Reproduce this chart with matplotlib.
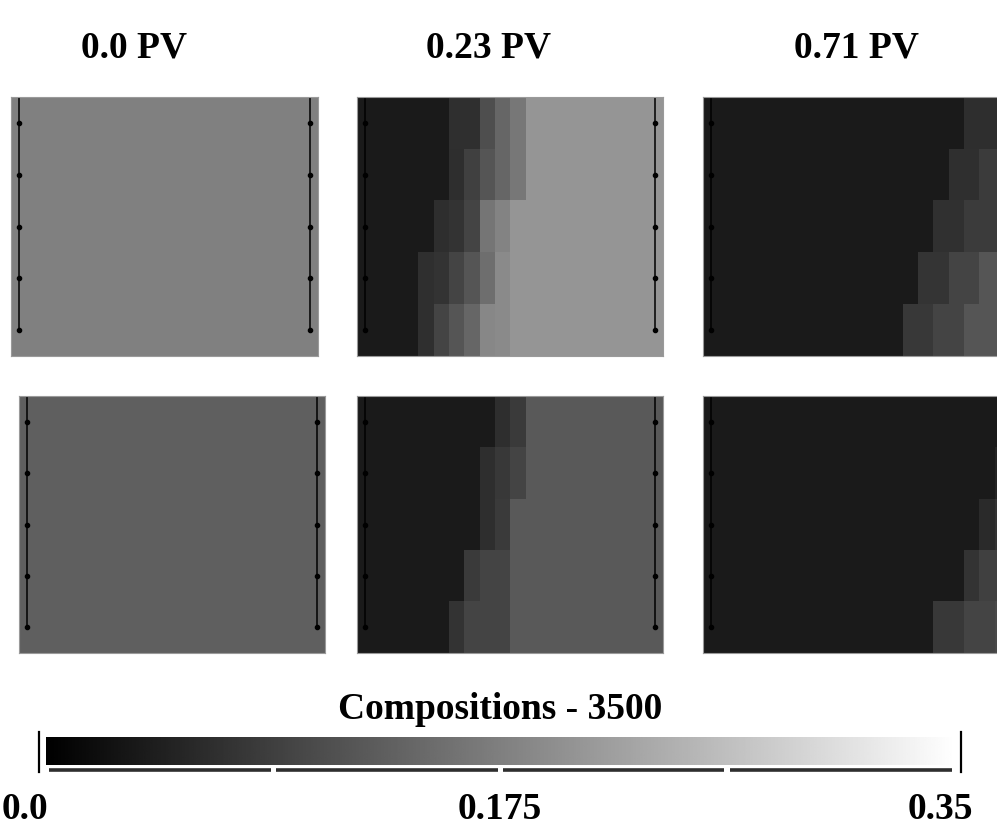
import numpy as np
import matplotlib
matplotlib.use("Agg")
from matplotlib import pyplot as plt
from matplotlib.lines import Line2D

# composition maps, 5 layers x 20 grid blocks
pv_labels = ['0.0 PV', '0.23 PV', '0.71 PV']

top_000 = [[0.175] * 20 for _ in range(5)]
top_023 = [
    [0.036, 0.036, 0.036, 0.036, 0.036, 0.036, 0.065, 0.065, 0.108, 0.140, 0.163, 0.205, 0.205, 0.205, 0.205, 0.205, 0.205, 0.205, 0.205, 0.205],
    [0.036, 0.036, 0.036, 0.036, 0.036, 0.036, 0.063, 0.088, 0.117, 0.140, 0.163, 0.205, 0.205, 0.205, 0.205, 0.205, 0.205, 0.205, 0.205, 0.205],
    [0.036, 0.036, 0.036, 0.036, 0.036, 0.063, 0.070, 0.093, 0.160, 0.180, 0.205, 0.205, 0.205, 0.205, 0.205, 0.205, 0.205, 0.205, 0.205, 0.205],
    [0.036, 0.036, 0.036, 0.036, 0.065, 0.070, 0.093, 0.117, 0.151, 0.190, 0.205, 0.205, 0.205, 0.205, 0.205, 0.205, 0.205, 0.205, 0.205, 0.205],
    [0.036, 0.036, 0.036, 0.036, 0.065, 0.093, 0.117, 0.140, 0.185, 0.190, 0.205, 0.205, 0.205, 0.205, 0.205, 0.205, 0.205, 0.205, 0.205, 0.205],
]
top_071 = [
    [0.036, 0.036, 0.036, 0.036, 0.036, 0.036, 0.036, 0.036, 0.036, 0.036, 0.036, 0.036, 0.036, 0.036, 0.036, 0.036, 0.036, 0.063, 0.063, 0.063],
    [0.036, 0.036, 0.036, 0.036, 0.036, 0.036, 0.036, 0.036, 0.036, 0.036, 0.036, 0.036, 0.036, 0.036, 0.036, 0.036, 0.065, 0.065, 0.082, 0.082],
    [0.036, 0.036, 0.036, 0.036, 0.036, 0.036, 0.036, 0.036, 0.036, 0.036, 0.036, 0.036, 0.036, 0.036, 0.036, 0.066, 0.066, 0.082, 0.082, 0.082],
    [0.036, 0.036, 0.036, 0.036, 0.036, 0.036, 0.036, 0.036, 0.036, 0.036, 0.036, 0.036, 0.036, 0.036, 0.072, 0.072, 0.093, 0.093, 0.117, 0.117],
    [0.036, 0.036, 0.036, 0.036, 0.036, 0.036, 0.036, 0.036, 0.036, 0.036, 0.036, 0.036, 0.036, 0.077, 0.077, 0.093, 0.093, 0.117, 0.117, 0.117],
]

bot_000 = [[0.130] * 20 for _ in range(5)]
bot_023 = [
    [0.036, 0.036, 0.036, 0.036, 0.036, 0.036, 0.036, 0.036, 0.036, 0.063, 0.080, 0.124, 0.124, 0.124, 0.124, 0.124, 0.124, 0.124, 0.124, 0.124],
    [0.036, 0.036, 0.036, 0.036, 0.036, 0.036, 0.036, 0.036, 0.063, 0.077, 0.093, 0.124, 0.124, 0.124, 0.124, 0.124, 0.124, 0.124, 0.124, 0.124],
    [0.036, 0.036, 0.036, 0.036, 0.036, 0.036, 0.036, 0.036, 0.063, 0.080, 0.124, 0.124, 0.124, 0.124, 0.124, 0.124, 0.124, 0.124, 0.124, 0.124],
    [0.036, 0.036, 0.036, 0.036, 0.036, 0.036, 0.036, 0.080, 0.093, 0.093, 0.124, 0.124, 0.124, 0.124, 0.124, 0.124, 0.124, 0.124, 0.124, 0.124],
    [0.036, 0.036, 0.036, 0.036, 0.036, 0.036, 0.070, 0.093, 0.093, 0.093, 0.124, 0.124, 0.124, 0.124, 0.124, 0.124, 0.124, 0.124, 0.124, 0.124],
]
bot_071 = [
    [0.036, 0.036, 0.036, 0.036, 0.036, 0.036, 0.036, 0.036, 0.036, 0.036, 0.036, 0.036, 0.036, 0.036, 0.036, 0.036, 0.036, 0.036, 0.036, 0.036],
    [0.036, 0.036, 0.036, 0.036, 0.036, 0.036, 0.036, 0.036, 0.036, 0.036, 0.036, 0.036, 0.036, 0.036, 0.036, 0.036, 0.036, 0.036, 0.036, 0.050],
    [0.036, 0.036, 0.036, 0.036, 0.036, 0.036, 0.036, 0.036, 0.036, 0.036, 0.036, 0.036, 0.036, 0.036, 0.036, 0.036, 0.036, 0.036, 0.058, 0.070],
    [0.036, 0.036, 0.036, 0.036, 0.036, 0.036, 0.036, 0.036, 0.036, 0.036, 0.036, 0.036, 0.036, 0.036, 0.036, 0.036, 0.036, 0.070, 0.088, 0.088],
    [0.036, 0.036, 0.036, 0.036, 0.036, 0.036, 0.036, 0.036, 0.036, 0.036, 0.036, 0.036, 0.036, 0.036, 0.036, 0.077, 0.077, 0.093, 0.093, 0.100],
]

# wells sit in the first and last grid column, perforated in every layer
well_cols = [0, 19]
n_layers = 5

vmin, vmax = 0.0, 0.35
cbar_title = 'Compositions - 3500'
cbar_ticks = [0.0, 0.175, 0.35]
cbar_ticklabels = ['0.0', '0.175', '0.35']

W, H = 997, 828
FONT = dict(family='Liberation Serif', weight='bold', size=27)

fig = plt.figure(figsize=(W / 100, H / 100), dpi=100)


def px_axes(x0, y0, x1, y1):
    return fig.add_axes([x0 / W, 1 - y1 / H, (x1 - x0) / W, (y1 - y0) / H])


panels = [
    (top_000, (11, 98, 318, 357)),
    (top_023, (357, 98, 663, 357)),
    (top_071, (703, 98, 1010, 357)),
    (bot_000, (19, 397, 325, 654)),
    (bot_023, (357, 397, 663, 654)),
    (bot_071, (703, 397, 1010, 654)),
]

for data, box in panels:
    a = px_axes(*box)
    grid = np.array(data)
    a.imshow(grid, cmap='gray', vmin=vmin, vmax=vmax, aspect='auto',
             interpolation='nearest', extent=[0, grid.shape[1], grid.shape[0], 0])
    layers = np.arange(n_layers) + 0.5
    for c in well_cols:
        a.plot([c + 0.5, c + 0.5], [0, layers[-1]], color='black', lw=1.1)
        a.plot([c + 0.5] * n_layers, layers, 'o', color='black', ms=3)
    a.set_xlim(0, grid.shape[1])
    a.set_ylim(grid.shape[0], 0)
    a.set_xticks([])
    a.set_yticks([])
    for s in a.spines.values():
        s.set_color('#9a9a9a')
        s.set_linewidth(0.8)

# column titles
for lab, xc in zip(pv_labels, (134, 488, 856)):
    fig.text(xc / W, 1 - 57 / H, lab, ha='center', va='baseline', **FONT)

# colour bar
cx0, cx1, cy0, cy1 = 46, 954, 738, 766
cax = px_axes(cx0, cy0, cx1, cy1)
grad = np.linspace(vmin, vmax, 512).reshape(1, -1)
cax.imshow(grad, cmap='gray', vmin=vmin, vmax=vmax, aspect='auto', extent=[vmin, vmax, 0, 1])
cax.set_axis_off()


def fx(v):
    return (cx0 + (v - vmin) / (vmax - vmin) * (cx1 - cx0)) / W


# segmented base line under the bar and the end brackets
seg = np.linspace(vmin, vmax, 5)
gap = 2.5 / W
for a0, a1 in zip(seg[:-1], seg[1:]):
    fig.add_artist(Line2D([fx(a0) + gap, fx(a1) - gap], [1 - 771 / H] * 2,
                          color='#2e2e2e', lw=2.6, solid_capstyle='butt',
                          transform=fig.transFigure))
for xb in (39, 961):
    fig.add_artist(Line2D([xb / W] * 2, [1 - 733 / H, 1 - 773 / H],
                          color='black', lw=1.6, transform=fig.transFigure))

fig.text(0.5 * (cx0 + cx1) / W, 1 - 719 / H, cbar_title, ha='center', va='baseline', **FONT)

for v, lab in zip(cbar_ticks, cbar_ticklabels):
    if v == vmin:
        fig.text(2 / W, 1 - 819 / H, lab, ha='left', va='baseline', **FONT)
    elif v == vmax:
        fig.text(973 / W, 1 - 819 / H, lab, ha='right', va='baseline', **FONT)
    else:
        fig.text(fx(v), 1 - 819 / H, lab, ha='center', va='baseline', **FONT)

fig.savefig('out.png', dpi=100, facecolor='white')
